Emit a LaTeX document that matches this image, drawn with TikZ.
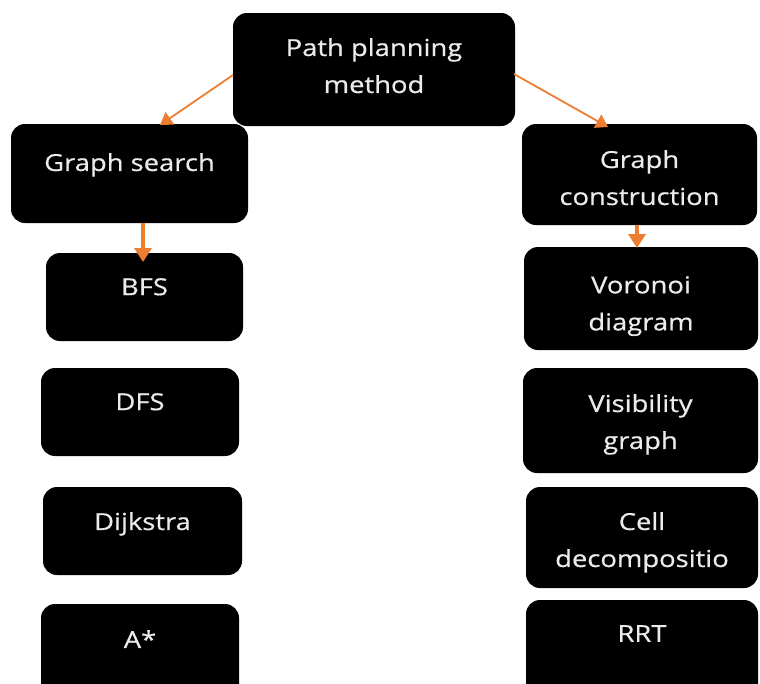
\documentclass[tikz,border=0pt]{standalone}
\usepackage{fontspec}
\setmainfont{Open Sans}[FakeStretch=1.17, FakeBold=0.6]
\usetikzlibrary{arrows.meta}
\definecolor{linkorange}{HTML}{ED7D31}
\definecolor{labelwhite}{HTML}{EBEBEB}
\begin{document}
\begin{tikzpicture}[x=1pt,y=-1pt,
  box/.style={fill=black, rounded corners=14pt, inner sep=0pt, outer sep=0pt},
  lbl/.style={text=labelwhite, font=\fontsize{23.4}{37}\selectfont,
    align=center, inner sep=0pt, anchor=north},
  link/.style={draw=linkorange, line width=1.8pt,
    -{Triangle[length=12pt,width=15pt]}},
  drop/.style={draw=linkorange, line width=3.5pt,
    -{Triangle[length=14pt,width=17pt]}}]
\useasboundingbox (0,0) rectangle (760,683);
\clip (0,0) rectangle (760,683);

% boxes: centre and size in px
\node[box, minimum width=282, minimum height=113] (top)   at (374,69.5)   {};
\node[box, minimum width=237, minimum height=99]  (gs)    at (129.5,173.5) {};
\node[box, minimum width=235, minimum height=101] (gc)    at (639.5,174.5) {};
\node[box, minimum width=197, minimum height=88]  (bfs)   at (144.5,297)  {};
\node[box, minimum width=198, minimum height=88]  (dfs)   at (140,412)    {};
\node[box, minimum width=199, minimum height=88]  (dij)   at (142.5,531)  {};
\node[box, minimum width=198, minimum height=96]  (astar) at (140,652)    {};
\node[box, minimum width=234, minimum height=103] (vor)   at (641,298.5)  {};
\node[box, minimum width=235, minimum height=105] (vis)   at (640.5,420.5) {};
\node[box, minimum width=232, minimum height=101] (cell)  at (642,537.5)  {};
\node[box, minimum width=232, minimum height=100] (rrt)   at (642,650)    {};

% labels, set near the top of each box
\node[lbl] (top-t)   at ([yshift=-25pt]top.north)   {Path planning\\method};
\node[lbl] (gs-t)    at ([yshift=-29pt]gs.north)    {Graph search};
\node[lbl] (gc-t)    at ([yshift=-26pt]gc.north)    {Graph\\construction};
\node[lbl] (bfs-t)   at ([yshift=-25pt]bfs.north)   {BFS};
\node[lbl] (dfs-t)   at ([yshift=-25pt]dfs.north)   {DFS};
\node[lbl] (dij-t)   at ([yshift=-25pt]dij.north)   {Dijkstra};
\node[lbl] (astar-t) at ([yshift=-26pt]astar.north) {A*};
\node[lbl] (vor-t)   at ([yshift=-29pt]vor.north)   {Voronoi\\diagram};
\node[lbl] (vis-t)   at ([yshift=-26pt]vis.north)   {Visibility\\graph};
\node[lbl] (cell-t)  at ([yshift=-25pt]cell.north)  {Cell\\decompositio};
\node[lbl] (rrt-t)   at ([yshift=-25pt]rrt.north)   {RRT};

% connectors
\draw[link] ([yshift=-5.5pt]top.west) -- ([xshift=30.5pt,yshift=-1pt]gs.north);
\draw[link] ([xshift=-1pt,yshift=-4.5pt]top.east) -- ([xshift=-31.5pt,yshift=-3pt]gc.north);
\draw[drop] ([xshift=13.5pt]gs.south) -- ([xshift=-1.5pt,yshift=-9pt]bfs.north);
\draw[drop] ([xshift=-2.5pt]gc.south) -- ([xshift=-4pt,yshift=-1pt]vor.north);
\end{tikzpicture}
\end{document}
